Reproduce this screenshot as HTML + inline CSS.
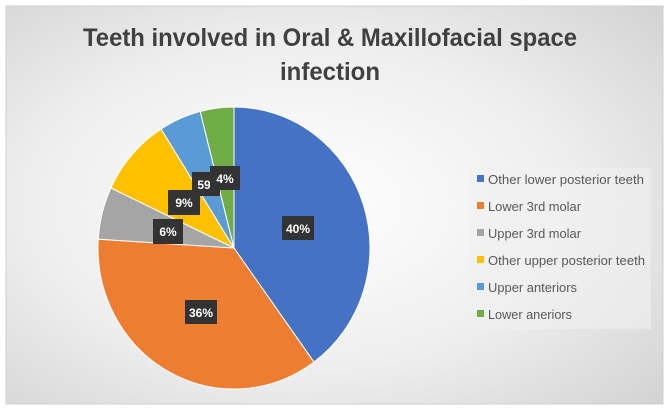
<!DOCTYPE html>
<html><head><style>
html,body{margin:0;padding:0;width:669px;height:412px;overflow:hidden;background:#fff}
</style></head><body>
<svg width="669" height="412" xmlns="http://www.w3.org/2000/svg" font-family="Liberation Sans, sans-serif">
<defs>
<radialGradient id="bg" cx="0.45" cy="0.5" r="0.75">
<stop offset="0" stop-color="#ffffff"/><stop offset="0.55" stop-color="#eeeeee"/><stop offset="1" stop-color="#d2d2d2"/>
</radialGradient>
</defs>
<rect x="6" y="6" width="657" height="398" fill="url(#bg)" stroke="#cfcfcf"/>
<text x="330" y="46" font-size="25" font-weight="bold" fill="#404040" text-anchor="middle" textLength="494" lengthAdjust="spacingAndGlyphs">Teeth involved in Oral &amp; Maxillofacial space</text>
<text x="330" y="80" font-size="25" font-weight="bold" fill="#404040" text-anchor="middle" textLength="100" lengthAdjust="spacingAndGlyphs">infection</text>
<g transform="translate(234,248) scale(136,141)">
<path d="M0,0 L0,-1 A1,1 0 0 1 0.5878,0.8090 Z" fill="#4472C4" stroke="#fff" vector-effect="non-scaling-stroke"/>
<path d="M0,0 L0.5878,0.8090 A1,1 0 0 1 -0.9980,-0.0628 Z" fill="#ED7D31" stroke="#fff" vector-effect="non-scaling-stroke"/>
<path d="M0,0 L-0.9980,-0.0628 A1,1 0 0 1 -0.9048,-0.4258 Z" fill="#A5A5A5" stroke="#fff" vector-effect="non-scaling-stroke"/>
<path d="M0,0 L-0.9048,-0.4258 A1,1 0 0 1 -0.5358,-0.8443 Z" fill="#FFC000" stroke="#fff" vector-effect="non-scaling-stroke"/>
<path d="M0,0 L-0.5358,-0.8443 A1,1 0 0 1 -0.2487,-0.9686 Z" fill="#5B9BD5" stroke="#fff" vector-effect="non-scaling-stroke"/>
<path d="M0,0 L-0.2487,-0.9686 A1,1 0 0 1 0,-1 Z" fill="#70AD47" stroke="#fff" vector-effect="non-scaling-stroke"/>
</g>
<g font-size="12" font-weight="bold" fill="#fff" text-anchor="middle">
<rect x="282" y="216" width="32" height="24" fill="#333"/><text x="298" y="233">40%</text>
<rect x="185" y="300" width="32" height="24" fill="#333"/><text x="201" y="317">36%</text>
<rect x="153" y="219" width="30" height="25" fill="#333"/><text x="168" y="236">6%</text>
<rect x="168" y="190" width="32" height="25" fill="#333"/><text x="184" y="207">9%</text>
<rect x="192" y="172" width="28" height="24" fill="#333"/><text x="204" y="189">59</text>
<rect x="210" y="166" width="30" height="24" fill="#333"/><text x="225" y="183">4%</text>
</g>
<rect x="470" y="168" width="181" height="161" fill="#f0f0f0" opacity="0.6"/>
<g font-size="12.5" fill="#595959" lengthAdjust="spacingAndGlyphs">
<rect x="477" y="175" width="7" height="7" fill="#4472C4"/><text x="488" y="184" textLength="156" lengthAdjust="spacingAndGlyphs">Other lower posterior teeth</text>
<rect x="477" y="202" width="7" height="7" fill="#ED7D31"/><text x="488" y="211" textLength="93" lengthAdjust="spacingAndGlyphs">Lower 3rd molar</text>
<rect x="477" y="229" width="7" height="7" fill="#A5A5A5"/><text x="488" y="238" textLength="93" lengthAdjust="spacingAndGlyphs">Upper 3rd molar</text>
<rect x="477" y="256" width="7" height="7" fill="#FFC000"/><text x="488" y="265" textLength="157" lengthAdjust="spacingAndGlyphs">Other upper posterior teeth</text>
<rect x="477" y="283" width="7" height="7" fill="#5B9BD5"/><text x="488" y="292" textLength="89" lengthAdjust="spacingAndGlyphs">Upper anteriors</text>
<rect x="477" y="310" width="7" height="7" fill="#70AD47"/><text x="488" y="319" textLength="84" lengthAdjust="spacingAndGlyphs">Lower aneriors</text>
</g>
</svg>
</body></html>
